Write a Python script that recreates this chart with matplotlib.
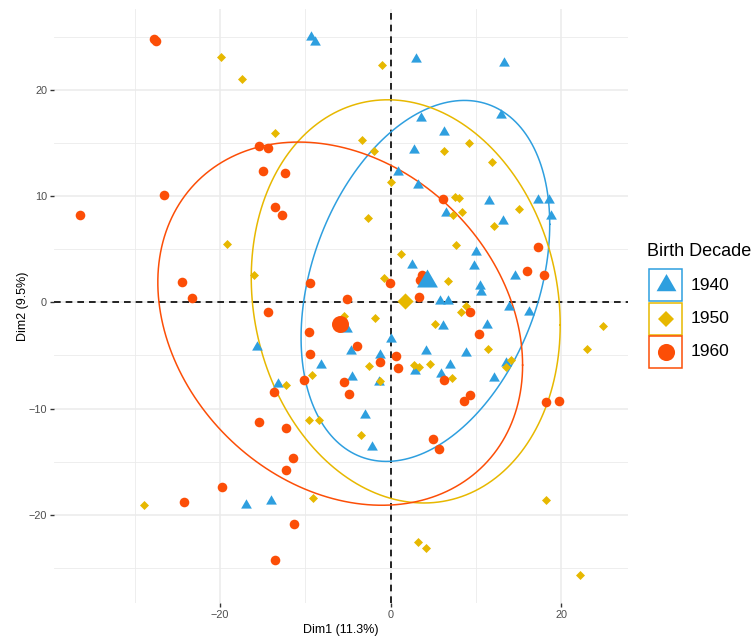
import numpy as np
import matplotlib
matplotlib.use("Agg")
import matplotlib.pyplot as plt
from matplotlib.path import Path
from matplotlib.patches import Rectangle

plt.rcParams['font.family'] = ['Liberation Sans', 'DejaVu Sans']

# Individuals on the first two principal dimensions, grouped by birth decade
x_1940 = [-9.36, -8.85, 2.99, 13.3, 12.9, 3.58, 6.3, 2.67, 0.8, 3.22, 11.47, 17.2, 18.5, 18.8,
          13.1, 6.5, 10.0, 9.7, 2.48, 14.6, 10.5, 10.6, 5.8, 6.66, 13.9, 16.2, 11.3, 6.07, 0.02,
          4.12, 8.77, -4.67, -1.3, 6.98, 2.87, 5.92, 12.1, 13.5, -4.48, -1.43, -2.99, -2.2,
          -15.7, -8.15, -13.2, -16.9, -14.0, -5.13]
y_1940 = [25.0, 24.5, 22.9, 22.5, 17.65, 17.3, 16.0, 14.3, 12.3, 11.06, 9.56, 9.65, 9.65, 8.15,
          7.68, 8.4, 4.73, 3.38, 3.54, 2.44, 1.5, 1.0, 0.1, 0.1, -0.45, -0.95, -2.1, -2.27, -3.5,
          -4.55, -4.77, -4.6, -4.93, -5.87, -6.43, -6.75, -7.13, -5.7, -7.06, -7.5, -10.6, -13.6,
          -4.24, -5.93, -7.66, -19.1, -18.7, -2.5]

x_1950 = [-19.9, -17.4, -13.6, -1.03, -3.34, -2.0, 9.12, 6.27, 11.86, 0.02, 7.48, 8.03, 15.0,
          8.34, 7.25, -2.67, 12.05, 7.68, 1.23, -19.2, -16.0, -9.17, -12.25, -0.76, -5.45, -1.82,
          -2.6, -1.23, -9.6, -8.46, -3.46, 6.7, 8.23, 8.85, 5.22, 11.4, 14.1, 13.5, 2.75, 3.26,
          4.63, 7.17, 24.9, 23.0, -9.05, -28.9, 18.2, 3.19, 4.16, 22.2]
y_1950 = [23.1, 21.0, 15.9, 22.3, 15.3, 14.2, 15.0, 14.2, 13.2, 11.3, 9.87, 9.78, 8.8, 8.5, 8.24,
          7.93, 7.2, 5.42, 4.57, 5.51, 2.53, -6.88, -7.8, 2.28, -1.33, -1.48, -5.96, -7.44, -11.1,
          -11.1, -12.5, 1.97, -0.92, -0.32, -2.0, -4.37, -5.4, -6.09, -5.93, -6.12, -5.81, -7.12,
          -2.27, -4.37, -18.45, -19.1, -18.6, -22.6, -23.15, -25.7]

x_1960 = [-27.5, -27.7, -15.4, -14.4, -15.0, -12.4, -26.6, -13.5, -12.7, -36.4, -24.5, -23.3, -9.44,
          -14.4, -9.55, -9.44, -10.2, -13.7, -5.13, -0.06, -4.0, 0.64, 0.8, -1.31, -5.45, -4.94,
          -15.4, -12.25, 3.66, 3.46, 3.26, 9.24, 10.4, 16.0, 18.0, 17.3, 6.2, 9.32, 8.62, 18.2,
          19.7, 4.9, 5.69, -11.5, -12.3, -19.8, -24.2, -11.3, -13.6, 6.08]
y_1960 = [24.6, 24.8, 14.7, 14.5, 12.4, 12.2, 10.1, 8.96, 8.24, 8.18, 1.87, 0.4, 1.82, -0.92, -2.77,
          -4.9, -7.28, -8.47, 0.31, 1.82, -4.08, -5.09, -6.18, -5.65, -7.53, -8.63, -11.3, -11.86,
          2.6, 2.13, 0.5, -0.95, -2.99, 2.97, 2.6, 5.17, -7.28, -8.7, -9.26, -9.42, -9.32, -12.9,
          -13.8, -14.7, -15.8, -17.4, -18.8, -20.9, -24.3, 9.72]

decades = ["1940", "1950", "1960"]
group_mean_x = [4.24, 1.7, -5.92]
group_mean_y = [1.97, 0.08, -2.0]
colors = ["#2E9FDF", "#E7B800", "#FC4E07"]
ellipse_level = 0.7

xlabel = "Dim1 (11.3%)"
ylabel = "Dim2 (9.5%)"
legend_title = "Birth Decade"

# equilateral triangle centred on its centroid
tri = Path([(0, 1.0), (-0.866, -0.5), (0.866, -0.5), (0, 1.0)],
           [Path.MOVETO, Path.LINETO, Path.LINETO, Path.CLOSEPOLY])
markers = [tri, "D", "o"]
sizes = [80, 21, 48]
mean_sizes = [300, 68, 150]
key_sizes = [16.5, 8.0, 12.3]

groups = [(x_1940, y_1940), (x_1950, y_1950), (x_1960, y_1960)]

W, H = 756, 638
fig = plt.figure(figsize=(W / 100, H / 100), dpi=100)
ax = fig.add_axes([54 / W, 1 - 603 / H, (628 - 54) / W, (603 - 9) / H])

ax.set_xlim(-39.45, 27.8)
ax.set_ylim(-28.3, 27.6)

for s in ax.spines.values():
    s.set_visible(False)
ax.set_facecolor("white")

# grid: majors and minors
for v in [-20, 0, 20]:
    ax.axvline(v, color="#EBEBEB", lw=1.1, zorder=0)
for v in [-30, -10, 10]:
    ax.axvline(v, color="#EBEBEB", lw=0.6, zorder=0)
for v in [-20, -10, 0, 10, 20]:
    ax.axhline(v, color="#EBEBEB", lw=1.1, zorder=0)
for v in [-25, -15, -5, 5, 15, 25]:
    ax.axhline(v, color="#EBEBEB", lw=0.6, zorder=0)

ax.axhline(0, color="black", lw=1.2, ls=(0, (4, 3)), zorder=1)
ax.axvline(0, color="black", lw=1.2, ls=(0, (4, 3)), zorder=1)


def norm_ellipse(xs, ys, level, npts=200):
    pts = np.column_stack([xs, ys])
    n = len(pts)
    center = pts.mean(axis=0)
    cov = np.cov(pts, rowvar=False)
    d = n - 1
    fq = d / 2 * ((1 - level) ** (-2 / d) - 1)
    radius = np.sqrt(2 * fq)
    t = np.linspace(0, 2 * np.pi, npts)
    unit = np.column_stack([np.cos(t), np.sin(t)])
    chol = np.linalg.cholesky(cov)
    return center + radius * unit @ chol.T


for (xs, ys), c in zip(groups, colors):
    e = norm_ellipse(xs, ys, ellipse_level)
    ax.plot(e[:, 0], e[:, 1], color=c, lw=1.1, zorder=2)

for (xs, ys), c, m, s in zip(groups, colors, markers, sizes):
    ax.scatter(xs, ys, s=s, marker=m, color=c, linewidths=0, zorder=3)

for mx, my, c, m, s in zip(group_mean_x, group_mean_y, colors, markers, mean_sizes):
    ax.scatter([mx], [my], s=s, marker=m, color=c, linewidths=0, zorder=4)

ax.set_xticks([-20, 0, 20])
ax.set_xticklabels(["\u221220", "0", "20"])
ax.set_yticks([-20, -10, 0, 10, 20])
ax.set_yticklabels(["\u221220", "\u221210", "0", "10", "20"])
ax.tick_params(axis="both", length=3, width=1, color="#333333", labelcolor="#4D4D4D",
               labelsize=7.8, pad=2)
ax.set_xlabel(xlabel, fontsize=9, labelpad=3)
ax.set_ylabel(ylabel, fontsize=9, labelpad=0)

# legend drawn in figure pixels
def fx(px):
    return px / W


def fy(py):
    return 1 - py / H


fig.text(fx(647), fy(251), legend_title, fontsize=13, va="center", ha="left")
key_top = [269, 302.5, 336]
for i, (lab, c, m) in enumerate(zip(decades, colors, markers)):
    top = key_top[i]
    fig.patches.append(Rectangle((fx(649), fy(top + 32)), 33 / W, 32 / H, transform=fig.transFigure,
                                 facecolor="white", edgecolor=c, lw=1.1))
    kax_x, kax_y = fx(665.5), fy(top + 16)
    fig.add_artist(plt.Line2D([kax_x], [kax_y], marker=m, color=c, linestyle="none",
                              markersize=key_sizes[i], markeredgewidth=0,
                              transform=fig.transFigure))
    fig.text(fx(691), fy(top + 16), lab, fontsize=12.5, va="center", ha="left")

fig.savefig("out.png", dpi=100)
